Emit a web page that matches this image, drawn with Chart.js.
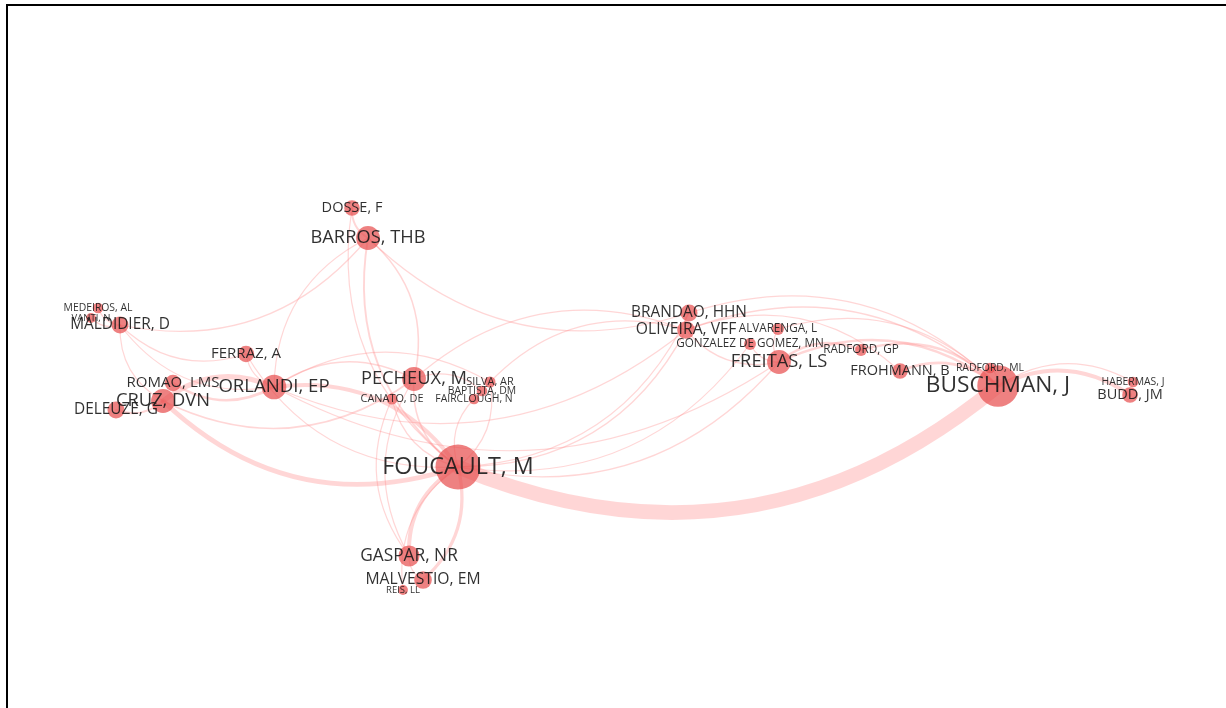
<!DOCTYPE html>
<html>
<head>
<meta charset="utf-8">
<title>Rede de cocitação</title>
<script src="https://cdn.jsdelivr.net/npm/chart.js@4.4.1/dist/chart.umd.min.js"></script>
<style>
  html, body { margin: 0; padding: 0; background: #fff; overflow: hidden; }
  #frame { position: absolute; left: 6px; top: 4px; width: 1400px; height: 900px; border: 2px solid #000; box-sizing: border-box; }
  #wrap { position: absolute; left: 0; top: 0; width: 1226px; height: 708px; }
</style>
</head>
<body>
<div id="frame"></div>
<div id="wrap"><canvas id="rede"></canvas></div>
<script>
// nodes (map coordinates + weight)
const nodeLabels = [
  "FOUCAULT, M", "BUSCHMAN, J", "CRUZ, DVN", "ORLANDI, EP", "ROMAO, LMS",
  "DELEUZE, G", "MALDIDIER, D", "MEDEIROS, AL", "VANTI, N", "FERRAZ, A",
  "DOSSE, F", "BARROS, THB", "PECHEUX, M", "SILVA, AR", "BAPTISTA, DM",
  "FAIRCLOUGH, N", "CANATO, DE", "GASPAR, NR", "MALVESTIO, EM", "REIS, LL",
  "BRANDAO, HHN", "OLIVEIRA, VFF", "ALVARENGA, L", "GONZALEZ DE GOMEZ, MN", "FREITAS, LS",
  "RADFORD, GP", "FROHMANN, B", "RADFORD, ML", "HABERMAS, J", "BUDD, JM"
];
const nodeX = [
  -1.52, 3.88, -4.47, -3.36, -4.37,
  -4.94, -4.90, -5.12, -5.19, -3.64,
  -2.58, -2.42, -1.96, -1.20, -1.28,
  -1.36, -2.18, -2.01, -1.87, -2.07,
  0.79, 0.76, 1.68, 1.40, 1.69,
  2.51, 2.90, 3.80, 5.23, 5.20
];
const nodeY = [
  -1.13, -0.32, -0.47, -0.33, -0.29,
  -0.56, 0.29, 0.46, 0.36, 0.00,
  1.46, 1.16, -0.25, -0.28, -0.37,
  -0.45, -0.45, -2.02, -2.26, -2.36,
  0.41, 0.24, 0.25, 0.10, -0.08,
  0.04, -0.17, -0.14, -0.28, -0.41
];
const nodeWeight = [
  100, 83, 22, 24, 8,
  9, 9, 2, 1.5, 8,
  7, 22, 22, 2.3, 2,
  2, 2.3, 16, 10, 1.5,
  9, 10, 3, 3, 22,
  3, 7, 2, 2, 7
];

// links
const edgeFrom = [
  "FOUCAULT, M", "CRUZ, DVN", "ORLANDI, EP", "ROMAO, LMS", "FOUCAULT, M",
  "FOUCAULT, M", "MALVESTIO, EM", "BUDD, JM", "HABERMAS, J", "BUSCHMAN, J",
  "BUSCHMAN, J", "BUSCHMAN, J", "BUSCHMAN, J", "BUSCHMAN, J", "BUSCHMAN, J",
  "BUSCHMAN, J", "RADFORD, GP", "FROHMANN, B", "OLIVEIRA, VFF", "GONZALEZ DE GOMEZ, MN",
  "ALVARENGA, L", "BRANDAO, HHN", "FOUCAULT, M", "FOUCAULT, M", "FOUCAULT, M",
  "ORLANDI, EP", "ORLANDI, EP", "OLIVEIRA, VFF", "OLIVEIRA, VFF", "BARROS, THB",
  "BARROS, THB", "PECHEUX, M", "DOSSE, F", "DOSSE, F", "BARROS, THB",
  "MALDIDIER, D", "MALDIDIER, D", "MALDIDIER, D", "MALDIDIER, D", "FERRAZ, A",
  "FERRAZ, A", "PECHEUX, M", "SILVA, AR", "CRUZ, DVN", "PECHEUX, M",
  "FOUCAULT, M", "CANATO, DE", "PECHEUX, M", "GASPAR, NR", "FOUCAULT, M",
  "DELEUZE, G", "MEDEIROS, AL", "VANTI, N", "FAIRCLOUGH, N", "BAPTISTA, DM",
  "CANATO, DE", "FOUCAULT, M"
];
const edgeTo = [
  "BUSCHMAN, J", "FOUCAULT, M", "CRUZ, DVN", "ORLANDI, EP", "ORLANDI, EP",
  "GASPAR, NR", "FOUCAULT, M", "BUSCHMAN, J", "BUSCHMAN, J", "FREITAS, LS",
  "RADFORD, GP", "FROHMANN, B", "OLIVEIRA, VFF", "BRANDAO, HHN", "ALVARENGA, L",
  "RADFORD, ML", "FREITAS, LS", "OLIVEIRA, VFF", "FREITAS, LS", "FREITAS, LS",
  "FREITAS, LS", "OLIVEIRA, VFF", "OLIVEIRA, VFF", "FREITAS, LS", "BRANDAO, HHN",
  "FREITAS, LS", "OLIVEIRA, VFF", "PECHEUX, M", "SILVA, AR", "BRANDAO, HHN",
  "FOUCAULT, M", "BARROS, THB", "BARROS, THB", "FOUCAULT, M", "ORLANDI, EP",
  "BARROS, THB", "CRUZ, DVN", "ORLANDI, EP", "FERRAZ, A", "FOUCAULT, M",
  "ORLANDI, EP", "ORLANDI, EP", "ORLANDI, EP", "PECHEUX, M", "FOUCAULT, M",
  "SILVA, AR", "GASPAR, NR", "GASPAR, NR", "MALVESTIO, EM", "REIS, LL",
  "CRUZ, DVN", "MALDIDIER, D", "MALDIDIER, D", "FOUCAULT, M", "PECHEUX, M",
  "FOUCAULT, M", "GONZALEZ DE GOMEZ, MN"
];
const edgeStrength = [
  20, 6, 7, 3, 5,
  5, 4, 5, 1, 3,
  3, 3, 1.5, 1, 1,
  1, 3, 1, 1, 1,
  1, 1, 1.5, 1, 1,
  1, 1, 1, 1, 1,
  2, 1.5, 2, 1, 1,
  1, 1, 1, 1, 1,
  1, 1.5, 1, 1.5, 1.5,
  1, 1, 1, 1, 1,
  2, 1, 1, 1, 1,
  1, 1
];

const radiusOf = w => 2.5 + 2.0 * Math.sqrt(w);
const fontOf = w => Math.max(9, 8.12 + 3.295 * Math.log(w));

const networkPlugin = {
  id: "network",
  beforeDatasetsDraw(chart) {
    const ctx = chart.ctx, sx = chart.scales.x, sy = chart.scales.y;
    ctx.save();
    ctx.strokeStyle = "rgba(255,140,140,0.36)";
    ctx.lineCap = "round";
    for (let k = 0; k < edgeFrom.length; k++) {
      const a = nodeLabels.indexOf(edgeFrom[k]);
      const b = nodeLabels.indexOf(edgeTo[k]);
      const x1 = sx.getPixelForValue(nodeX[a]), y1 = sy.getPixelForValue(nodeY[a]);
      const x2 = sx.getPixelForValue(nodeX[b]), y2 = sy.getPixelForValue(nodeY[b]);
      const dx = x2 - x1, dy = y2 - y1;
      // bend to the right of the direction of travel
      const cx = (x1 + x2) / 2 - dy * 0.3;
      const cy = (y1 + y2) / 2 + dx * 0.3;
      ctx.lineWidth = 0.5 + 0.7 * edgeStrength[k];
      ctx.beginPath();
      ctx.moveTo(x1, y1);
      ctx.quadraticCurveTo(cx, cy, x2, y2);
      ctx.stroke();
    }
    ctx.restore();
  },
  afterDatasetsDraw(chart) {
    const ctx = chart.ctx, sx = chart.scales.x, sy = chart.scales.y;
    ctx.save();
    ctx.fillStyle = "rgba(25,25,25,0.9)";
    ctx.textAlign = "center";
    ctx.textBaseline = "middle";
    nodeLabels.forEach((lab, i) => {
      ctx.font = fontOf(nodeWeight[i]).toFixed(1) + "px 'Open Sans'";
      ctx.fillText(lab, sx.getPixelForValue(nodeX[i]), sy.getPixelForValue(nodeY[i]));
    });
    ctx.restore();
  }
};

new Chart(document.getElementById("rede"), {
  type: "bubble",
  data: {
    datasets: [
      {
        data: nodeLabels.map((lab, i) => ({ x: nodeX[i], y: nodeY[i], r: radiusOf(nodeWeight[i]) })),
        backgroundColor: "rgba(232,80,80,0.72)",
        borderWidth: 0,
        hoverBorderWidth: 0,
      },
    ],
  },
  options: {
    responsive: true,
    maintainAspectRatio: false,
    animation: false,
    events: [],
    layout: { padding: 0, autoPadding: false },
    scales: {
      x: { type: "linear", min: -6.10, max: 6.16, display: false },
      y: { type: "linear", min: -3.54, max: 3.54, display: false },
    },
    plugins: {
      legend: { display: false },
      tooltip: { enabled: false },
    },
  },
  plugins: [networkPlugin],
});
</script>
</body>
</html>
